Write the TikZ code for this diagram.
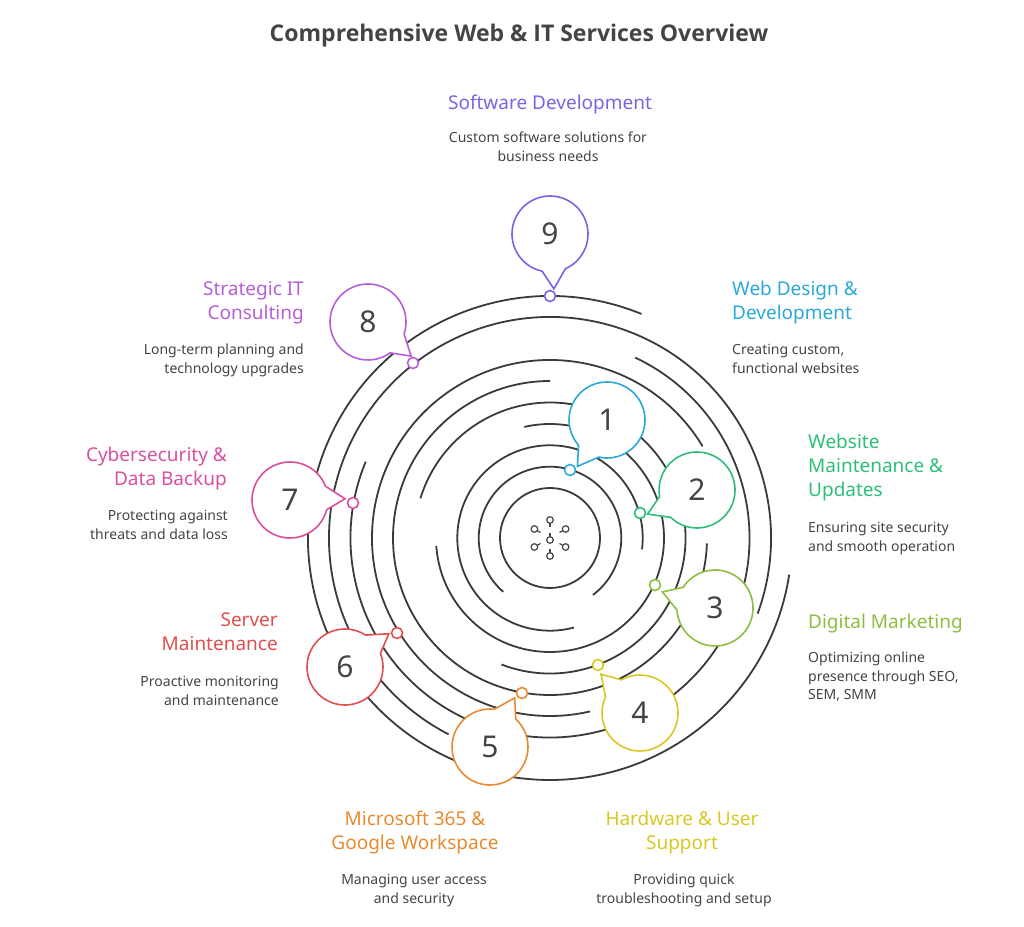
\documentclass[tikz,border=0pt]{standalone}
\usepackage{fontspec}
\setmainfont{Noto Sans}
\newfontfamily\ttlfont{Open Sans}
\usetikzlibrary{calc}
\definecolor{c1}{HTML}{2AA8D8}
\definecolor{c2}{HTML}{2DBE7A}
\definecolor{c3}{HTML}{8CBF3F}
\definecolor{c4}{HTML}{D8C824}
\definecolor{c5}{HTML}{E88A30}
\definecolor{c6}{HTML}{E04E4E}
\definecolor{c7}{HTML}{D9509E}
\definecolor{c8}{HTML}{B55FD9}
\definecolor{c9}{HTML}{7D62E6}
\definecolor{ring}{HTML}{3A3A3A}
\definecolor{txt}{HTML}{444444}
\tikzset{
  ringline/.style={draw=ring,line width=1.8pt},
  dot/.style={circle,draw=#1,fill=white,line width=1.6pt,inner sep=0pt,minimum size=11pt},
  num/.style={text=txt,font=\fontsize{30}{30}\selectfont},
  head/.style={text=#1,font=\fontsize{19}{24}\selectfont,inner sep=0pt},
  desc/.style={text=txt,font=\fontsize{14}{18.5}\selectfont,inner sep=0pt},
}
\newcommand{\bub}[5]{% center, dot, color, number, name
  \path let \p1=($(#2)-(#1)$), \n1={atan2(\y1,\x1)} in
    [draw=#3,fill=white,line width=1.6pt]
    ($(#1)+(\n1+24:38)$) arc[start angle=\n1+24,end angle=\n1+348,radius=38]
    -- ($(#1)+(\n1+4:55)$) -- cycle;
  \node[num] (#5) at (#1) {#4};
}
\begin{document}
\begin{tikzpicture}[x=1pt,y=1pt]
\useasboundingbox (0,0) rectangle (1024,926);
\coordinate (O) at (550,388);
\node[text=txt,font=\ttlfont\bfseries\fontsize{23}{28}\selectfont] (title) at (519,890) {Comprehensive Web \& IT Services Overview};
% rings
\draw[ringline] (O) circle[radius=50];
\foreach \r/\a/\b in {71.3/-53/229, 92.7/-7/285, 114/184/463, 135.5/249/523, 157/90/358, 178/31/283, 199.5/157.5/424.7, 221/-20/242.7, 242/67.8/351.3}
  \draw[ringline] ($(O)+(\a:\r)$) arc[start angle=\a,end angle=\b,radius=\r];
% center icon
\begin{scope}[shift={(O)},draw=txt,line width=1.2pt]
  \foreach \ang in {90,30,-30,-90,210,150}{
    \draw ($(\ang:18)$) circle[radius=3.3];
    \draw ($(\ang:14.7)$) -- ($(\ang:11)$);
  }
  \draw (0,-2) circle[radius=3.3];
  \draw (0,1.3) -- (0,5);
\end{scope}
% dots
\node[dot=c1] (d1) at (570,456) {};
\node[dot=c2] (d2) at (640,413) {};
\node[dot=c3] (d3) at (655,341) {};
\node[dot=c4] (d4) at (598,261) {};
\node[dot=c5] (d5) at (522,233) {};
\node[dot=c6] (d6) at (397,293) {};
\node[dot=c7] (d7) at (353,423) {};
\node[dot=c8] (d8) at (413,563) {};
\node[dot=c9] (d9) at (550,630) {};
% bubbles
\coordinate (p1) at (607,506); \bub{p1}{d1}{c1}{1}{b1}
\coordinate (p2) at (697,436); \bub{p2}{d2}{c2}{2}{b2}
\coordinate (p3) at (715,318); \bub{p3}{d3}{c3}{3}{b3}
\coordinate (p4) at (640,213); \bub{p4}{d4}{c4}{4}{b4}
\coordinate (p5) at (490,179); \bub{p5}{d5}{c5}{5}{b5}
\coordinate (p6) at (345,259); \bub{p6}{d6}{c6}{6}{b6}
\coordinate (p7) at (290,426); \bub{p7}{d7}{c7}{7}{b7}
\coordinate (p8) at (368,604); \bub{p8}{d8}{c8}{8}{b8}
\coordinate (p9) at (550,692); \bub{p9}{d9}{c9}{9}{b9}
% labels
\node[head=c9,anchor=center] (h9) at (550,821) {Software Development};
\node[desc,align=center,anchor=north] (t9) at (548,794) {Custom software solutions for\\business needs};
\node[head=c1,align=left,anchor=north west] (h1) at (732,645) {Web Design \&\\Development};
\node[desc,align=left,anchor=north west] (t1) at (732,582) {Creating custom,\\functional websites};
\node[head=c2,align=left,anchor=north west] (h2) at (808,492) {Website\\Maintenance \&\\Updates};
\node[desc,align=left,anchor=north west] (t2) at (808,404) {Ensuring site security\\and smooth operation};
\node[head=c3,align=left,anchor=west] (h3) at (808,302) {Digital Marketing};
\node[desc,align=left,anchor=north west] (t3) at (808,274) {Optimizing online\\presence through SEO,\\SEM, SMM};
\node[head=c4,align=center,anchor=north] (h4) at (682,115) {Hardware \& User\\Support};
\node[desc,align=center,anchor=north] (t4) at (684,52) {Providing quick\\troubleshooting and setup};
\node[head=c5,align=center,anchor=north] (h5) at (415,115) {Microsoft 365 \&\\Google Workspace};
\node[desc,align=center,anchor=north] (t5) at (414,52) {Managing user access\\and security};
\node[head=c6,align=right,anchor=north east] (h6) at (278,313) {Server\\Maintenance};
\node[desc,align=right,anchor=north east] (t6) at (279,250) {Proactive monitoring\\and maintenance};
\node[head=c7,align=right,anchor=north east] (h7) at (227,479) {Cybersecurity \&\\Data Backup};
\node[desc,align=right,anchor=north east] (t7) at (228,416) {Protecting against\\threats and data loss};
\node[head=c8,align=right,anchor=north east] (h8) at (304,645) {Strategic IT\\Consulting};
\node[desc,align=right,anchor=north east] (t8) at (304,582) {Long-term planning and\\technology upgrades};
\end{tikzpicture}
\end{document}
